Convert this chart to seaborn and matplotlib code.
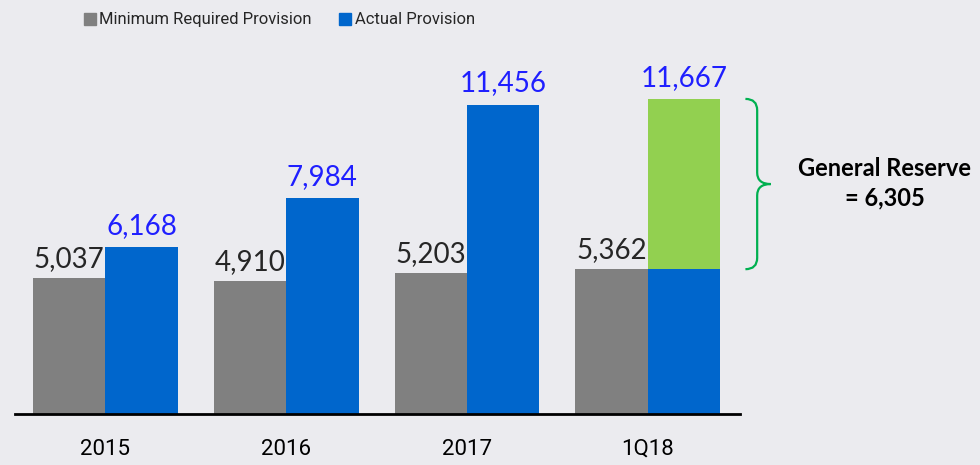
import numpy as np
import pandas as pd
import matplotlib
matplotlib.use('Agg')
import matplotlib.pyplot as plt
from matplotlib.path import Path
from matplotlib.patches import PathPatch
from matplotlib.lines import Line2D
import seaborn as sns

# data
years = ['2015', '2016', '2017', '1Q18']
min_required = [5037, 4910, 5203, 5362]
actual = [6168, 7984, 11456, 11667]
general_reserve = [0, 0, 0, 6305]
series_names = ['Minimum Required Provision', 'Actual Provision']

GRAY = '#808080'
BLUE = '#0066cc'
GREEN = '#92d050'
LABEL_BLUE = '#1f1fff'
BG = '#ebebef'

sns.set_theme(style='white')
plt.rcParams['font.family'] = ['Lato', 'DejaVu Sans']

df = pd.DataFrame({
    'year': years * 2,
    'value': min_required + actual,
    'series': [series_names[0]] * len(years) + [series_names[1]] * len(years),
})

fig = plt.figure(figsize=(9.8, 4.65), dpi=100, facecolor=BG)
ax = fig.add_axes([0.0153, 0.1097, 0.7398, 0.755])
ax.set_facecolor(BG)

sns.barplot(data=df, x='year', y='value', hue='series', order=years,
            hue_order=series_names, palette=[GRAY, BLUE], width=0.8,
            saturation=1, ax=ax, legend=False, errorbar=None, linewidth=0)

# the actual-provision bar for 1Q18: blue part is the base, green part is the reserve
gray_bars = ax.patches[:len(years)]
blue_bars = ax.patches[len(years):2 * len(years)]
for i, bar in enumerate(blue_bars):
    if general_reserve[i] > 0:
        base = actual[i] - general_reserve[i]
        ax.bar(bar.get_x() + bar.get_width() / 2, general_reserve[i], bottom=base,
               width=bar.get_width(), color=GREEN, linewidth=0)

ax.set_xlim(-0.5, 3.51)
ax.set_ylim(0, 13000)

# value labels
for i, bar in enumerate(gray_bars):
    ax.text(bar.get_x() + bar.get_width() / 2, min_required[i] + 230, f'{min_required[i]:,}',
            ha='center', va='bottom', fontsize=20, color='#262626')
for i, bar in enumerate(blue_bars):
    ax.text(bar.get_x() + bar.get_width() / 2, actual[i] + 300, f'{actual[i]:,}',
            ha='center', va='bottom', fontsize=20, color=LABEL_BLUE)

# brace around the general reserve
i = years.index('1Q18')
y_bot = actual[i] - general_reserve[i]
y_top = actual[i]
y_mid = (y_bot + y_top) / 2
x0, x1, x2 = 3.54, 3.605, 3.68
r = 420
verts = [(x0, y_top), (x1, y_top), (x1, y_top - r),
         (x1, y_mid + r), (x1, y_mid), (x2, y_mid),
         (x1, y_mid), (x1, y_mid - r),
         (x1, y_bot + r), (x1, y_bot), (x0, y_bot)]
codes = [Path.MOVETO, Path.CURVE3, Path.CURVE3,
         Path.LINETO, Path.CURVE3, Path.CURVE3,
         Path.CURVE3, Path.CURVE3,
         Path.LINETO, Path.CURVE3, Path.CURVE3]
ax.add_patch(PathPatch(Path(verts, codes), facecolor='none', edgecolor='#00b050',
                       linewidth=1.6, clip_on=False))
ax.text(4.31, y_mid + 580, 'General Reserve', ha='center', va='center',
        fontsize=17, fontweight='bold', color='black', clip_on=False)
ax.text(4.31, y_mid - 500, f'= {general_reserve[i]:,}', ha='center', va='center',
        fontsize=17, fontweight='bold', color='black', clip_on=False)

# axes styling
for side in ['top', 'right', 'left']:
    ax.spines[side].set_visible(False)
ax.spines['bottom'].set_color('black')
ax.spines['bottom'].set_linewidth(2)
ax.set_yticks([])
ax.set_xlabel('')
ax.set_ylabel('')
ax.tick_params(axis='x', length=0, pad=18)
for lbl in ax.get_xticklabels():
    lbl.set_family(['Roboto', 'DejaVu Sans'])
    lbl.set_fontsize(16)
    lbl.set_color('black')

# legend with square markers
handles = [Line2D([], [], marker='s', linestyle='none', markersize=9, color=c)
           for c in [GRAY, BLUE]]
fig.legend(handles, series_names, loc='center', bbox_to_anchor=(0.284, 0.957), ncol=2,
           frameon=False, handletextpad=0.1, columnspacing=1.6, handlelength=0.9,
           prop={'family': ['Roboto', 'DejaVu Sans'], 'size': 12})

fig.savefig('out.png', dpi=100, facecolor=BG)
